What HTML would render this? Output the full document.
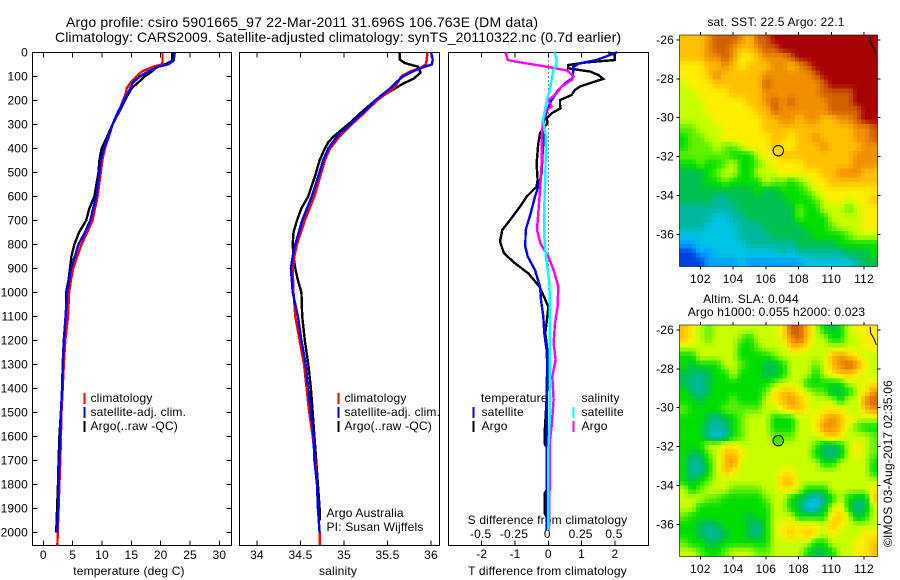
<!DOCTYPE html>
<html>
<head>
<meta charset="utf-8">
<title>Argo profile</title>
<style>
html,body{margin:0;padding:0;background:#fff;}
svg{display:block;}
text{font-family:"Liberation Sans",sans-serif;font-size:12px;fill:#000;letter-spacing:0.18px;}
.title{font-size:14px;letter-spacing:0;}
.line{fill:none;shape-rendering:crispEdges;}
.axis{stroke:#000;stroke-width:1;fill:none;shape-rendering:crispEdges;}
</style>
</head>
<body>
<svg id="chart" xmlns="http://www.w3.org/2000/svg" width="900" height="580" viewBox="0 0 900 580">
<rect x="0" y="0" width="900" height="580" fill="#fff"/>
<text class="title" x="66" y="27" textLength="472" lengthAdjust="spacing">Argo profile: csiro 5901665_97 22-Mar-2011 31.696S 106.763E (DM data)</text>
<text class="title" x="55" y="42" textLength="566" lengthAdjust="spacing">Climatology: CARS2009. Satellite-adjusted climatology: synTS_20110322.nc (0.7d earlier)</text>
<text x="129" y="575" text-anchor="middle">temperature (deg C)</text>
<text x="338" y="575" text-anchor="middle">salinity</text>
<text x="547.5" y="575" text-anchor="middle">T difference from climatology</text>
<text x="547.5" y="524" text-anchor="middle">S difference from climatology</text>
<text x="326.5" y="517">Argo Australia</text>
<text x="326.5" y="531">PI: Susan Wijffels</text>
<text x="776" y="26" text-anchor="middle">sat. SST: 22.5  Argo: 22.1</text>
<text x="751" y="303" text-anchor="middle">Altim. SLA: 0.044</text>
<text x="776.5" y="316" text-anchor="middle">Argo h1000: 0.055 h2000: 0.023</text>
<text transform="translate(892,547) rotate(-90)">©IMOS 03-Aug-2017 02:35:06</text>
</svg>
<script>
const depthTicks = [0,100,200,300,400,500,600,700,800,900,1000,1100,1200,1300,1400,1500,1600,1700,1800,1900,2000];
const tempTicks = [0,5,10,15,20,25,30];
const salTicks = [34,34.5,35,35.5,36];
const tDiffTicks = [-2,-1,0,1,2];
const sDiffTicks = [-0.5,-0.25,0,0.25,0.5];
const sDiffLabels = ['-0.5','-0.25','0','0.25','0.5'];
const lonTicks = [102,104,106,108,110,112];
const latTicks = [-26,-28,-30,-32,-34,-36];

const tempClimDepth = [0,40,50,60,80,100,125,150,175,200,250,300,350,400,450,500,600,650,700,750,800,850,900,950,1000,1100,1200,1300,1400,1500,1600,1700,1800,1900,2000,2055];
const tempClimValues = [20.3,20.3,20.2,18.75,16.8,15.9,14.9,14.2,14,13.6,12.8,11.8,11.2,10.5,10.05,9.8,9.25,8.8,8.4,7.5,6.5,5.8,5.1,4.7,4.4,4.2,3.75,3.5,3.3,3.1,3,2.9,2.75,2.6,2.45,2.4];
const tempSatDepth = [0,35,50,60,80,100,125,150,200,250,300,350,400,450,500,600,650,700,750,800,850,900,950,1000,1100,1200,1300,1400,1500,1600,1700,1800,1900,2000];
const tempSatValues = [22.4,22.2,21.3,19.6,17.9,16.5,15.3,14.8,13.75,12.7,11.8,11.1,10.3,9.8,9.55,9,8.5,8,7.1,6,5.4,4.7,4.4,4.03,3.8,3.5,3.3,3.2,3,2.85,2.75,2.6,2.5,2.35];
const tempArgoDepth = [0,35,50,60,80,100,125,150,200,250,300,350,400,450,500,600,650,700,750,800,850,900,950,1000,1100,1200,1300,1400,1500,1600,1700,1800,1900,2000];
const tempArgoValues = [22,22,20.7,19.3,18.5,17.3,16.2,15.05,13.9,12.9,11.8,10.9,9.95,9.55,9.4,8.7,7.85,7.3,6.1,5.3,4.8,4.55,4.3,3.9,3.85,3.65,3.4,3.2,3,2.75,2.6,2.5,2.35,2.2];

const salClimDepth = [0,30,50,65,80,100,125,150,200,250,300,350,400,450,500,600,700,800,850,900,1000,1100,1200,1300,1400,1500,1600,1700,1800,1900,2000,2055];
const salClimValues = [35.96,35.95,35.94,35.88,35.76,35.66,35.62,35.57,35.38,35.24,35.09,34.95,34.84,34.78,34.74,34.66,34.55,34.46,34.43,34.41,34.42,34.44,34.49,34.54,34.57,34.6,34.64,34.67,34.69,34.7,34.72,34.72];
const salSatDepth = [0,30,50,65,80,100,125,150,200,250,300,350,400,450,500,600,700,800,850,900,1000,1100,1200,1300,1400,1500,1600,1700,1800,1900,2000];
const salSatValues = [36,36.02,36.01,35.89,35.79,35.68,35.6,35.53,35.36,35.22,35.07,34.92,34.82,34.76,34.72,34.63,34.52,34.44,34.41,34.39,34.41,34.47,34.51,34.56,34.59,34.62,34.65,34.66,34.69,34.7,34.72];
const salArgoDepth = [0,30,45,60,85,110,130,150,200,250,300,350,375,400,450,500,600,650,700,750,800,850,900,950,1000,1100,1200,1300,1400,1500,1600,1700,1800,1900,1950];
const salArgoValues = [35.64,35.64,35.7,35.85,35.88,35.8,35.68,35.59,35.36,35.2,35.05,34.88,34.82,34.78,34.72,34.68,34.59,34.51,34.46,34.42,34.41,34.42,34.44,34.47,34.51,34.52,34.55,34.59,34.62,34.64,34.66,34.68,34.7,34.72,34.72];

const tDiffSatDepth = [0,32,46,60,74,108,129,157,199,240,282,337,420,504,560,601,671,740,810,851,907,976,1032,1101,1171,1240,1310,1393,1476,1588,1726,1865,1990];
const tDiffSatValues = [2.07,1.45,0.95,0.75,0.75,0.73,0.5,0.3,0.1,-0.03,-0.13,-0.13,-0.17,-0.2,-0.3,-0.4,-0.53,-0.68,-0.69,-0.62,-0.4,-0.25,-0.22,-0.15,-0.12,-0.05,-0.03,-0.05,-0.05,-0.05,-0.05,-0.05,-0.03];
const tDiffArgoDepth = [0,11,32,42,53,67,80,94,111,122,143,157,178,199,219,233,254,275,296,337,379,462,532,560,601,643,699,740,789,837,879,921,976,1018,1060,1101,1171,1240,1310,1448,1588,1630,1645,1824,1838,1921,1935,1990];
const tDiffArgoValues = [1.8,2,2,1.15,0.6,0.6,1.25,1.5,1.65,1.4,0.95,0.8,0.7,0.35,0.35,0.37,0.1,-0.05,-0.03,-0.25,-0.3,-0.35,-0.32,-0.35,-0.65,-0.85,-1.15,-1.38,-1.45,-1.33,-1,-0.6,-0.27,-0.13,0,-0.03,-0.09,-0.03,0,-0.05,-0.11,-0.11,-0.05,-0.05,-0.11,-0.11,-0.05,-0.05];
const sDiffSatDepth = [0,32,60,74,115,157,199,240,282,351,504,643,768,851,962,1060,1101,1310,1518,1657,1990];
const sDiffSatValues = [0.045,0.063,0.055,0.038,0.025,0.012,-0.012,-0.025,-0.04,-0.018,-0.022,-0.03,-0.03,-0.018,0.008,0.012,0.012,0.012,0.012,0,0];
const sDiffArgoDepth = [0,32,42,60,76,101,115,143,171,199,226,240,282,365,462,560,629,740,796,851,907,976,1060,1129,1212,1282,1351,1448,1560,1615,1726,1990];
const sDiffArgoValues = [-0.32,-0.305,-0.21,-0.012,0.14,0.19,0.175,0.1,0.063,0,0.025,-0.012,-0.04,-0.05,-0.05,-0.06,-0.07,-0.085,-0.06,0,0.04,0.075,0.07,0.05,0.04,0.055,0.03,0.04,0.025,0.012,0.012,0.005];

const sstLevels = [
[9,9,9,10,11,11,11,10,9,11,11,12,12,12,12,12,12,12,12,12,12,12,12,12],
[9,9,9,10,11,11,10,9,9,10,11,11,12,12,12,12,12,12,12,12,12,12,12,12],
[9,9,9,10,10,11,10,8,8,9,10,10,10,11,12,12,12,12,12,12,12,12,12,12],
[8,8,8,9,9,10,9,8,9,9,9,10,10,9,10,11,12,12,12,12,12,12,12,12],
[8,8,8,9,10,9,9,9,9,9,10,10,10,10,10,10,11,12,12,12,12,12,12,12],
[7,8,8,8,9,9,9,9,9,9,11,10,10,10,10,10,10,11,12,12,12,12,12,12],
[7,7,8,8,8,8,9,9,9,9,10,10,10,10,10,10,10,11,11,11,11,12,12,12],
[7,7,7,8,8,8,8,8,9,9,10,11,10,11,10,10,10,10,11,11,11,12,12,12],
[7,7,7,8,8,8,8,8,8,9,9,11,10,10,10,10,10,10,11,11,11,11,12,12],
[7,7,7,7,8,8,8,8,8,8,9,9,10,10,9,10,10,9,9,10,10,11,12,12],
[6,6,7,7,7,8,8,8,8,8,9,9,9,9,9,9,9,9,9,9,9,10,10,11],
[5,6,6,7,7,8,8,8,8,8,8,9,9,8,9,9,10,9,9,9,9,10,10,11],
[5,6,6,6,7,6,6,7,8,8,8,9,8,8,9,9,9,10,9,9,9,9,10,10],
[6,6,6,6,6,6,5,5,5,7,8,8,9,9,9,9,9,9,9,9,9,10,10,10],
[5,5,6,5,5,6,7,5,5,6,7,8,8,8,8,9,9,9,9,9,9,10,10,10],
[4,4,4,5,6,7,7,5,5,7,7,7,8,8,8,8,8,9,9,10,10,10,9,9],
[4,4,4,5,5,6,5,5,5,5,7,6,6,5,6,7,8,8,9,9,9,9,9,9],
[4,4,4,4,4,4,4,4,4,5,4,4,5,5,5,6,7,8,8,8,8,8,8,8],
[4,4,4,4,3,3,4,4,4,4,4,4,4,5,5,5,6,7,8,8,7,8,8,9],
[3,3,3,3,3,3,3,4,4,4,4,4,4,4,6,5,5,7,7,7,6,7,8,8],
[3,3,3,3,2,2,3,3,4,4,4,4,4,4,6,5,5,5,7,7,7,7,8,8],
[3,3,3,2,2,2,2,3,3,3,4,4,4,4,4,5,5,5,6,7,7,7,8,8],
[2,2,2,2,2,2,2,3,3,3,3,4,4,4,4,4,5,5,5,5,6,7,7,7],
[1,1,2,2,2,2,2,2,3,3,3,3,3,3,4,4,4,4,4,5,5,5,5,5],
[0,0,1,1,2,2,2,2,2,2,2,2,3,2,3,3,3,3,3,3,4,4,4,5],
[0,0,0,1,1,1,1,2,1,1,1,1,1,1,1,2,2,2,2,2,2,3,4,4]
];
const slaLevels = [
[9,8,7,6,7,7,7,7,7,7,7,7,8,11,11,9,7,5,4,5,7,8,8,8],
[9,8,7,6,7,7,7,6,5,7,7,7,8,10,11,9,7,7,5,5,7,7,8,8],
[7,7,7,7,7,7,7,5,5,6,7,7,7,9,9,8,7,7,7,7,7,7,8,8],
[5,5,7,7,7,7,7,5,5,5,5,6,7,7,7,7,7,7,9,10,9,8,7,7],
[5,4,5,5,5,7,7,6,5,5,4,4,5,7,7,7,6,7,9,10,11,10,8,7],
[4,4,3,4,5,5,7,5,5,5,4,4,5,7,7,7,5,7,8,9,9,8,7,7],
[4,3,3,4,5,5,5,5,5,5,5,6,7,7,7,5,5,5,5,5,7,7,8,8],
[5,4,3,4,5,5,5,5,5,5,6,8,9,9,8,7,6,6,4,4,5,7,8,10],
[5,5,4,5,5,5,6,5,5,5,7,8,9,10,9,8,7,7,7,5,7,7,10,11],
[6,5,5,5,5,6,6,6,6,6,7,7,8,9,9,8,7,8,8,8,7,7,9,10],
[5,5,5,4,3,4,5,6,7,7,7,5,5,5,7,7,8,9,10,9,8,7,7,7],
[5,5,5,3,3,3,5,6,7,7,7,5,5,5,7,7,8,10,10,9,7,6,5,5],
[5,5,5,3,2,3,5,6,7,7,7,6,6,6,7,7,7,8,9,8,7,7,7,6],
[5,5,5,7,7,8,8,7,7,7,7,7,7,7,7,7,6,4,4,5,7,8,7,6],
[5,4,4,6,7,9,9,8,7,7,7,7,7,7,7,7,5,4,3,4,7,8,7,6],
[5,3,3,5,7,9,10,7,7,7,7,7,7,7,7,7,7,5,5,7,7,7,7,5],
[5,3,3,5,7,9,8,7,7,7,7,7,8,8,7,7,7,7,7,7,7,7,7,5],
[5,4,5,6,7,7,7,7,7,7,7,7,9,9,7,7,7,7,7,7,7,7,7,7],
[7,5,6,7,7,7,6,6,6,6,7,7,8,8,7,5,5,5,7,7,7,7,7,8],
[7,7,7,6,6,5,5,5,5,5,6,7,7,5,4,3,2,3,5,7,5,4,4,9],
[7,7,5,5,5,5,5,5,5,5,5,7,7,5,4,2,2,4,7,8,5,3,4,7],
[6,5,5,5,5,5,5,5,4,5,5,7,7,7,5,5,5,5,8,9,7,4,5,7],
[5,5,4,3,4,5,5,5,4,3,5,7,8,8,8,8,8,7,9,8,7,7,7,7],
[5,5,4,3,3,4,5,5,4,3,5,7,8,9,8,9,8,7,8,7,7,7,8,8],
[6,5,5,4,4,5,5,5,5,5,5,7,7,7,7,7,5,5,7,7,7,8,8,9],
[7,7,6,5,5,6,7,7,7,6,6,7,7,7,7,5,4,4,5,7,7,8,8,9]
];
const levelColors = ['#0040e0','#00a0ff','#00c4e4','#00b8a0','#00c050','#00e000','#60f000','#c8ff00','#ffee00','#ffc000','#f09000','#d06000','#a80000'];
const coastLon = [112.37,112.41,112.6,112.76];
const coastLat = [-25.83,-26.17,-26.43,-26.77];
const argoLon = 106.763;
const argoLat = -31.696;

const svg = document.getElementById('chart');
const NS = 'http://www.w3.org/2000/svg';
const plotTop = 52.5, plotBottom = 545.5;
const depthY = d => 52.3 + 0.24 * d;
const tempX = t => 43.3 + 5.87 * t;
const salX = s => 257 + 87 * (s - 34);
const tDiffX = t => 548.3 + 33.3 * t;
const sDiffX = s => 548.3 + 133.3 * s;
const lonX = lon => 700.3 + 16.37 * (lon - 102);
const latOffset = lat => 19.43 * (-26 - lat);

function make(tag, name, attrs, parent) {
  const el = document.createElementNS(NS, tag);
  
  
  for (const k in attrs) el.setAttribute(k, attrs[k]);
  (parent || svg).appendChild(el);
  return el;
}
function label(name, x, y, str, anchor, parent) {
  const t = make('text', name, {x: x, y: y, 'text-anchor': anchor}, parent);
  t.textContent = str;
  return t;
}
function tick(name, x1, y1, x2, y2) {
  make('line', name, {x1: x1, y1: y1, x2: x2, y2: y2, class: 'axis'});
}
function series(name, depths, values, xFn, color, width) {
  const pts = depths.map((d, i) => xFn(values[i]).toFixed(1) + ',' + depthY(d).toFixed(1)).join(' ');
  make('polyline', name, {points: pts, class: 'line', stroke: color, 'stroke-width': width});
}
function legendBar(name, x, y, color) {
  make('rect', name, {x: x, y: y, width: 2, height: 11, fill: color});
}

function panelFrame(prefix, left, right) {
  make('rect', prefix + '-frame', {x: left, y: plotTop, width: right - left, height: plotBottom - plotTop, class: 'axis'});
}
/* panel 1 */
panelFrame('temperature-panel', 32.5, 231.5);
depthTicks.forEach(d => {
  const y = depthY(d);
  label('depth-tick-label', 28, y + 4, String(d), 'end');
  tick('depth-tick-left', 32.5, y, 37.5, y);
  tick('depth-tick-right', 226.5, y, 231.5, y);
});
tempTicks.forEach(t => {
  const x = tempX(t);
  label('temperature-tick-label', x, 559, String(t), 'middle');
  tick('temperature-tick-top', x, plotTop, x, plotTop + 5);
  tick('temperature-tick-bottom', x, plotBottom - 5, x, plotBottom);
});
series('temperature-argo-line', tempArgoDepth, tempArgoValues, tempX, '#000', 2.4);
series('temperature-climatology-line', tempClimDepth, tempClimValues, tempX, '#f00', 2.4);
series('temperature-satellite-line', tempSatDepth, tempSatValues, tempX, '#00f', 2.4);

/* panel 2 */
panelFrame('salinity-panel', 239.5, 439.5);
salTicks.forEach(s => {
  const x = salX(s);
  label('salinity-tick-label', x, 559, String(s), 'middle');
  tick('salinity-tick-top', x, plotTop, x, plotTop + 5);
  tick('salinity-tick-bottom', x, plotBottom - 5, x, plotBottom);
});
series('salinity-argo-line', salArgoDepth, salArgoValues, salX, '#000', 2.4);
series('salinity-climatology-line', salClimDepth, salClimValues, salX, '#f00', 2.4);
series('salinity-satellite-line', salSatDepth, salSatValues, salX, '#00f', 2.4);

/* panel 3 */
panelFrame('difference-panel', 448.5, 648.5);
make('line', 'zero-difference-line', {x1: 548.5, y1: plotTop, x2: 548.5, y2: 292, stroke: '#000', 'stroke-width': 1, 'stroke-dasharray': '1 3'});
tDiffTicks.forEach(t => {
  const x = tDiffX(t);
  label('t-difference-tick-label', x, 558, t < 0 ? '-' + Math.abs(t) : String(t), 'middle');
  tick('t-difference-tick-top', x, plotTop, x, plotTop + 5);
  tick('t-difference-tick-bottom', x, plotBottom - 5, x, plotBottom);
});
sDiffTicks.forEach((s, i) => {
  label('s-difference-tick-label', sDiffX(s) - 1, 538, sDiffLabels[i], 'middle');
});
series('t-difference-argo-line', tDiffArgoDepth, tDiffArgoValues, tDiffX, '#000', 2.4);
series('t-difference-satellite-line', tDiffSatDepth, tDiffSatValues, tDiffX, '#00f', 2.4);
series('s-difference-argo-line', sDiffArgoDepth, sDiffArgoValues, sDiffX, '#f0f', 2.4);
series('s-difference-satellite-line', sDiffSatDepth, sDiffSatValues, sDiffX, '#0ff', 2.4);

/* legends */
[[83.5, 90.5, 'temperature'], [337.5, 344.5, 'salinity']].forEach(c => {
  legendBar('legend-climatology-swatch', c[0], 393, '#f00');
  label('legend-climatology-label', c[1], 402, 'climatology', 'start');
  legendBar('legend-satellite-swatch', c[0], 407, '#00f');
  label('legend-satellite-label', c[1], 416, 'satellite-adj. clim.', 'start');
  legendBar('legend-argo-swatch', c[0], 421, '#000');
  label('legend-argo-label', c[1], 430, 'Argo(..raw -QC)', 'start');
});
label('legend-temperature-heading', 481, 402, 'temperature', 'start');
legendBar('legend-t-satellite-swatch', 472.5, 407, '#00f');
label('legend-t-satellite-label', 481.5, 416, 'satellite', 'start');
legendBar('legend-t-argo-swatch', 472.5, 421, '#000');
label('legend-t-argo-label', 481.5, 430, 'Argo', 'start');
label('legend-salinity-heading', 581.5, 402, 'salinity', 'start');
legendBar('legend-s-satellite-swatch', 572.5, 407, '#0ff');
label('legend-s-satellite-label', 581.5, 416, 'satellite', 'start');
legendBar('legend-s-argo-swatch', 572.5, 421, '#f0f');
label('legend-s-argo-label', 581.5, 430, 'Argo', 'start');

/* maps: the level grid is resampled onto display pixels of about 4 x 4.5 px */
function hexToRgb(hex) {
  return [parseInt(hex.slice(1, 3), 16), parseInt(hex.slice(3, 5), 16), parseInt(hex.slice(5, 7), 16)];
}
function levelColor(v) {
  const lo = Math.max(0, Math.min(levelColors.length - 1, Math.floor(v)));
  const hi = Math.min(levelColors.length - 1, lo + 1);
  const f = v - lo;
  const a = hexToRgb(levelColors[lo]), b = hexToRgb(levelColors[hi]);
  return 'rgb(' + a.map((c, i) => Math.round(c + (b[i] - c) * f)).join(',') + ')';
}
function sampleLevel(levels, u, v) {
  const nr = levels.length, nc = levels[0].length;
  const cu = Math.max(0, Math.min(nc - 1, u)), cv = Math.max(0, Math.min(nr - 1, v));
  const i0 = Math.floor(cu), j0 = Math.floor(cv);
  const i1 = Math.min(nc - 1, i0 + 1), j1 = Math.min(nr - 1, j0 + 1);
  const fu = cu - i0, fv = cv - j0;
  return (levels[j0][i0] * (1 - fu) + levels[j0][i1] * fu) * (1 - fv) + (levels[j1][i0] * (1 - fu) + levels[j1][i1] * fu) * fv;
}
function drawMap(prefix, levels, top, lat0Y, markerFill) {
  const left = 679.5, right = 877.5, bottom = top + 231.5;
  const clipId = prefix + '-clip';
  const defs = make('clipPath', prefix + '-clip-region', {id: clipId});
  make('rect', prefix + '-clip-rect', {x: left, y: top, width: right - left, height: bottom - top}, defs);
  const outer = make('g', prefix + '-image-clip', {'clip-path': 'url(#' + clipId + ')'});
  const g = make('g', prefix + '-image', {'shape-rendering': 'crispEdges'}, outer);
  const nr = levels.length, nc = levels[0].length;
  const sub = 2;
  const cw = (right - left) / (nc * sub), ch = (bottom - top) / (nr * sub);
  for (let j = 0; j < nr * sub; j++) {
    for (let i = 0; i < nc * sub; i++) {
      const u = (i + 0.5) / sub - 0.5, v = (j + 0.5) / sub - 0.5;
      make('rect', prefix + '-cell', {x: (left + i * cw).toFixed(2), y: (top + j * ch).toFixed(2), width: (cw + 0.6).toFixed(2), height: (ch + 0.6).toFixed(2), fill: levelColor(sampleLevel(levels, u, v))}, g);
    }
  }
  const coast = coastLon.map((lon, i) => lonX(lon).toFixed(1) + ',' + (lat0Y + latOffset(coastLat[i])).toFixed(1)).join(' ');
  make('polyline', prefix + '-coastline', {points: coast, fill: 'none', stroke: '#000', 'stroke-width': 1}, outer);
  make('rect', prefix + '-frame', {x: left, y: top, width: right - left, height: bottom - top, fill: 'none', stroke: '#000', 'stroke-width': 0.6});
  lonTicks.forEach(lon => {
    const x = lonX(lon);
    tick(prefix + '-lon-tick-top', x, top - 3, x, top);
    tick(prefix + '-lon-tick-bottom', x, bottom, x, bottom + 3);
    label(prefix + '-lon-label', x, bottom + 16.5, String(lon), 'middle');
  });
  latTicks.forEach(lat => {
    const y = lat0Y + latOffset(lat);
    tick(prefix + '-lat-tick-left', left - 3, y, left, y);
    tick(prefix + '-lat-tick-right', right, y, right + 3, y);
    label(prefix + '-lat-label', 674, y + 4, String(lat), 'end');
  });
  make('circle', prefix + '-argo-marker', {cx: lonX(argoLon), cy: lat0Y + latOffset(argoLat), r: 5.2, fill: markerFill, stroke: '#000', 'stroke-width': 1});
}
drawMap('sst-map', sstLevels, 35, 40, '#ffdc00');
drawMap('sla-map', slaLevels, 325, 330, '#48e400');
</script>
</body>
</html>
